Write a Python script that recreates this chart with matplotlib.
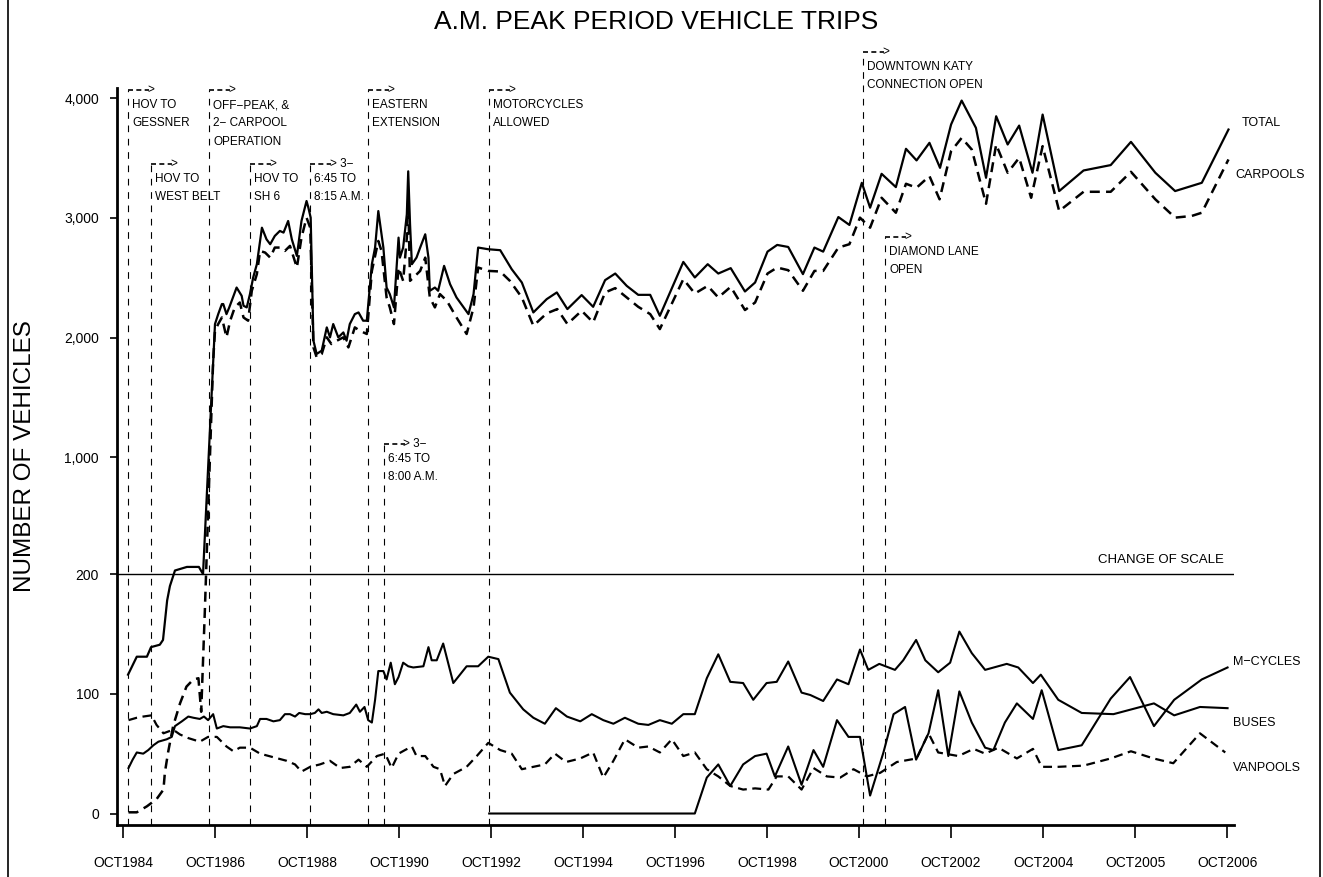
import matplotlib
matplotlib.use("Agg")
import matplotlib.pyplot as plt
import matplotlib.transforms as mtransforms
from matplotlib.lines import Line2D
import numpy as np

plt.rcParams['font.family'] = ['Liberation Sans', 'DejaVu Sans']

# ---- data (x in decimal years, y in vehicles) ----
x_ticks = [1984.75, 1986.75, 1988.75, 1990.75, 1992.75, 1994.75, 1996.75,
           1998.75, 2000.75, 2002.75, 2004.75, 2006.75, 2008.75]
x_tick_labels = ['OCT1984', 'OCT1986', 'OCT1988', 'OCT1990', 'OCT1992', 'OCT1994',
                 'OCT1996', 'OCT1998', 'OCT2000', 'OCT2002', 'OCT2004', 'OCT2005',
                 'OCT2006']
y_ticks = [0, 100, 200, 1000, 2000, 3000, 4000]
y_tick_labels = ['0', '100', '200', '1,000', '2,000', '3,000', '4,000']

total_x = [1984.86, 1985.05, 1985.27, 1985.36, 1985.55, 1985.62, 1985.71, 1985.77,
           1985.88, 1986.14, 1986.40, 1986.49, 1986.71, 1986.75, 1986.82, 1986.90,
           1986.93, 1987.00, 1987.06, 1987.22, 1987.33, 1987.37, 1987.44, 1987.51,
           1987.58, 1987.66, 1987.77, 1987.87, 1987.95, 1988.05, 1988.16, 1988.24,
           1988.34, 1988.42, 1988.53, 1988.63, 1988.74, 1988.78, 1988.83, 1988.89,
           1988.96, 1989.07, 1989.18, 1989.25, 1989.32, 1989.43, 1989.54, 1989.61,
           1989.68, 1989.79, 1989.87, 1989.97, 1990.05, 1990.16, 1990.23, 1990.30,
           1990.34, 1990.41, 1990.48, 1990.55, 1990.64, 1990.74, 1990.77, 1990.84,
           1990.92, 1990.95, 1990.99, 1991.03, 1991.13, 1991.21, 1991.32, 1991.39,
           1991.42, 1991.53, 1991.60, 1991.73, 1991.86, 1992.00, 1992.26, 1992.37,
           1992.47, 1992.69, 1992.95, 1993.20, 1993.42, 1993.67, 1993.96, 1994.18,
           1994.41, 1994.72, 1994.97, 1995.23, 1995.45, 1995.70, 1995.95, 1996.21,
           1996.42, 1996.93, 1997.18, 1997.46, 1997.69, 1997.96, 1998.27, 1998.49,
           1998.76, 1998.97, 1999.21, 1999.53, 1999.78, 1999.97, 2000.30, 2000.54,
           2000.81, 2000.99, 2001.24, 2001.55, 2001.77, 2002.00, 2002.28, 2002.51,
           2002.75, 2002.98, 2003.29, 2003.51, 2003.73, 2003.98, 2004.23, 2004.52,
           2004.74, 2005.10, 2005.63, 2006.22, 2006.66, 2007.19, 2007.62, 2008.20,
           2008.78]
total_y = [116, 131, 131, 139, 141, 145, 178, 190,
           203, 206, 206, 200, 1808, 2114, 2197, 2281,
           2281, 2197, 2253, 2419, 2350, 2267, 2253, 2364,
           2503, 2614, 2919, 2822, 2781, 2850, 2892, 2878,
           2975, 2822, 2683, 2975, 3142, 3086, 3003, 1975,
           1864, 1892, 2086, 2003, 2114, 2003, 2044, 1975,
           2114, 2197, 2211, 2142, 2142, 2614, 2753, 3058,
           2947, 2753, 2419, 2364, 2253, 2836, 2669, 2753,
           3031, 3390, 2947, 2614, 2669, 2753, 2864, 2669,
           2392, 2419, 2392, 2600, 2447, 2336, 2197, 2364,
           2753, 2739, 2731, 2572, 2461, 2211, 2322, 2378,
           2239, 2356, 2258, 2481, 2536, 2433, 2358, 2358,
           2183, 2633, 2503, 2614, 2536, 2581, 2386, 2461,
           2719, 2775, 2758, 2531, 2753, 2719, 3008, 2942,
           3294, 3086, 3369, 3258, 3578, 3481, 3628, 3419,
           3781, 3981, 3753, 3336, 3850, 3614, 3772, 3378,
           3864, 3225, 3397, 3442, 3636, 3378, 3225, 3294,
           3739]

carpool_x = [1984.87, 1985.05, 1985.27, 1985.48, 1985.63, 1985.66, 1985.73, 1985.84,
             1985.99, 1986.13, 1986.28, 1986.39, 1986.45, 1986.53, 1986.71, 1986.75,
             1986.82, 1986.90, 1987.00, 1987.08, 1987.18, 1987.29, 1987.37, 1987.47,
             1987.55, 1987.66, 1987.73, 1987.84, 1987.95, 1988.05, 1988.16, 1988.27,
             1988.38, 1988.53, 1988.63, 1988.74, 1988.82, 1988.89, 1988.96, 1989.07,
             1989.18, 1989.28, 1989.40, 1989.54, 1989.65, 1989.79, 1989.90, 1990.05,
             1990.16, 1990.30, 1990.37, 1990.48, 1990.55, 1990.64, 1990.74, 1990.84,
             1990.92, 1990.95, 1990.99, 1991.21, 1991.32, 1991.42, 1991.53, 1991.64,
             1991.79, 1992.00, 1992.22, 1992.37, 1992.47, 1992.69, 1992.95, 1993.16,
             1993.42, 1993.67, 1993.96, 1994.19, 1994.41, 1994.72, 1994.97, 1995.23,
             1995.45, 1995.70, 1995.95, 1996.21, 1996.42, 1996.93, 1997.18, 1997.46,
             1997.69, 1997.96, 1998.27, 1998.49, 1998.76, 1998.97, 1999.21, 1999.53,
             1999.78, 1999.97, 2000.30, 2000.54, 2000.77, 2000.99, 2001.24, 2001.55,
             2001.77, 2002.00, 2002.28, 2002.50, 2002.75, 2002.98, 2003.20, 2003.51,
             2003.73, 2003.98, 2004.23, 2004.49, 2004.74, 2005.10, 2005.63, 2006.22,
             2006.66, 2007.19, 2007.62, 2007.98, 2008.20, 2008.78]
carpool_y = [1, 1, 6, 12, 20, 34, 51, 73,
             92, 106, 112, 113, 85, 170, 1808, 2058,
             2114, 2169, 2003, 2142, 2253, 2294, 2169, 2142,
             2392, 2531, 2725, 2711, 2669, 2753, 2753, 2725,
             2767, 2586, 2836, 3003, 2919, 1919, 1836, 1864,
             2003, 1947, 1975, 2003, 1919, 2086, 2058, 2031,
             2558, 2808, 2725, 2336, 2253, 2114, 2586, 2475,
             2836, 3142, 2475, 2558, 2669, 2336, 2253, 2364,
             2308, 2169, 2031, 2253, 2586, 2558, 2553, 2475,
             2336, 2100, 2203, 2239, 2114, 2225, 2128, 2378,
             2414, 2336, 2258, 2197, 2072, 2489, 2369, 2433,
             2336, 2425, 2231, 2294, 2536, 2586, 2564, 2392,
             2558, 2558, 2753, 2781, 3003, 2919, 3169, 3044,
             3286, 3253, 3350, 3156, 3558, 3669, 3572, 3119,
             3614, 3378, 3503, 3169, 3600, 3058, 3219, 3219,
             3386, 3156, 3003, 3017, 3044, 3489]

bus_x = [1984.87, 1984.96, 1985.05, 1985.19, 1985.30, 1985.41, 1985.52, 1985.70,
         1985.81, 1985.88, 1986.03, 1986.17, 1986.28, 1986.42, 1986.51, 1986.60,
         1986.71, 1986.79, 1986.93, 1987.08, 1987.29, 1987.51, 1987.66, 1987.73,
         1987.87, 1988.02, 1988.16, 1988.27, 1988.38, 1988.49, 1988.58, 1988.71,
         1988.82, 1988.92, 1989.00, 1989.07, 1989.18, 1989.32, 1989.54, 1989.68,
         1989.82, 1989.90, 1990.00, 1990.08, 1990.16, 1990.23, 1990.30, 1990.41,
         1990.48, 1990.57, 1990.66, 1990.74, 1990.84, 1990.95, 1991.06, 1991.28,
         1991.39, 1991.46, 1991.57, 1991.71, 1991.93, 1992.22, 1992.47, 1992.69,
         1992.91, 1993.16, 1993.45, 1993.67, 1993.92, 1994.16, 1994.40, 1994.69,
         1994.94, 1995.19, 1995.41, 1995.66, 1995.95, 1996.17, 1996.42, 1996.68,
         1996.93, 1997.18, 1997.44, 1997.69, 1997.95, 1998.23, 1998.45, 1998.74,
         1998.96, 1999.21, 1999.50, 1999.69, 1999.97, 2000.27, 2000.52, 2000.77,
         2000.95, 2001.19, 2001.53, 2001.71, 2001.99, 2002.19, 2002.47, 2002.73,
         2002.93, 2003.20, 2003.49, 2003.96, 2004.21, 2004.53, 2004.70, 2005.08,
         2005.59, 2006.28, 2007.16, 2007.60, 2008.16, 2008.76]
bus_y = [38, 45, 51, 50, 53, 57, 60, 62,
         64, 73, 77, 81, 80, 79, 81, 78,
         83, 71, 73, 72, 72, 71, 73, 79,
         79, 77, 78, 83, 83, 81, 84, 83,
         83, 84, 87, 84, 85, 83, 82, 84,
         91, 85, 89, 78, 76, 95, 119, 119,
         112, 126, 108, 114, 126, 123, 122, 123,
         139, 128, 128, 142, 109, 123, 123, 131,
         129, 101, 87, 80, 75, 88, 81, 77,
         83, 78, 75, 80, 75, 74, 78, 75,
         83, 83, 113, 133, 110, 109, 95, 109,
         110, 127, 101, 99, 94, 112, 108, 137,
         120, 125, 120, 128, 145, 128, 118, 126,
         152, 134, 120, 125, 122, 109, 116, 95,
         84, 83, 92, 82, 89, 88]

mcycle_x = [1992.71, 1997.18, 1997.44, 1997.69, 1997.95, 1998.23, 1998.49, 1998.74,
            1998.92, 1999.21, 1999.50, 1999.76, 1999.97, 2000.27, 2000.52, 2000.77,
            2000.99, 2001.28, 2001.50, 2001.75, 2001.99, 2002.26, 2002.47, 2002.69,
            2002.93, 2003.20, 2003.49, 2003.67, 2003.92, 2004.18, 2004.53, 2004.72,
            2005.08, 2005.59, 2006.22, 2006.64, 2007.16, 2007.60, 2008.20, 2008.76]
mcycle_y = [0, 0, 30, 41, 23, 41, 48, 50,
            31, 56, 24, 53, 39, 78, 64, 64,
            15, 51, 83, 89, 45, 67, 103, 48,
            102, 76, 55, 53, 76, 92, 79, 103,
            53, 57, 96, 114, 73, 95, 112, 122]

vanpool_x = [1984.87, 1985.05, 1985.19, 1985.37, 1985.48, 1985.63, 1985.84, 1985.99,
             1986.17, 1986.42, 1986.60, 1986.79, 1987.00, 1987.15, 1987.29, 1987.51,
             1987.73, 1988.02, 1988.31, 1988.49, 1988.63, 1988.82, 1989.03, 1989.25,
             1989.47, 1989.68, 1989.87, 1990.05, 1990.27, 1990.45, 1990.59, 1990.74,
             1990.88, 1991.03, 1991.13, 1991.32, 1991.50, 1991.64, 1991.75, 1991.93,
             1992.22, 1992.44, 1992.69, 1992.95, 1993.20, 1993.42, 1993.67, 1993.92,
             1994.14, 1994.38, 1994.69, 1994.97, 1995.19, 1995.41, 1995.66, 1995.95,
             1996.17, 1996.42, 1996.68, 1996.93, 1997.18, 1997.44, 1997.69, 1997.95,
             1998.23, 1998.49, 1998.78, 1998.96, 1999.21, 1999.50, 1999.76, 2000.05,
             2000.34, 2000.63, 2000.92, 2001.21, 2001.57, 2002.00, 2002.26, 2002.47,
             2002.91, 2003.24, 2003.49, 2003.78, 2004.18, 2004.53, 2004.72, 2005.08,
             2005.63, 2006.22, 2006.66, 2007.15, 2007.58, 2008.16, 2008.71]
vanpool_y = [78, 80, 81, 82, 74, 67, 70, 66,
             63, 60, 64, 64, 56, 52, 55, 55,
             50, 47, 44, 41, 35, 39, 41, 44,
             38, 39, 45, 39, 48, 50, 38, 50,
             53, 56, 48, 48, 39, 37, 23, 33,
             39, 48, 59, 53, 50, 37, 39, 41,
             50, 43, 46, 51, 30, 44, 62, 55,
             56, 51, 62, 48, 51, 37, 31, 23,
             20, 21, 20, 31, 31, 20, 38, 31,
             30, 37, 31, 34, 43, 46, 67, 51,
             48, 54, 50, 55, 46, 54, 39, 39,
             40, 46, 52, 46, 42, 67, 51]

event_dates = [1984.86, 1985.36, 1986.62, 1987.51, 1988.82, 1990.08, 1990.42,
               1992.71, 2000.84, 2001.32]
event_labels = ['HOV TO\nGESSNER', 'HOV TO\nWEST BELT', 'OFF\u2212PEAK, &\n2\u2212 CARPOOL\nOPERATION',
                'HOV TO\nSH 6', '6:45 TO\n8:15 A.M.', 'EASTERN\nEXTENSION', '6:45 TO\n8:00 A.M.',
                'MOTORCYCLES\nALLOWED', 'DOWNTOWN KATY\nCONNECTION OPEN', 'DIAMOND LANE\nOPEN']
event_suffix = ['', '', '', '', ' 3\u2212', '', ' 3\u2212', '', '', '']
# arrow heights as pixel rows of the 877 px tall figure
event_rows = [90, 164, 90, 164, 164, 90, 444, 90, 52, 237]

series_names = ['TOTAL', 'CARPOOLS', 'M\u2212CYCLES', 'BUSES', 'VANPOOLS']


def fwd(v):
    v = np.asarray(v, dtype=float)
    return np.where(v <= 210, v / 100,
                    np.where(v < 1000, 2.1 + (v - 210) * 0.875 / 790, 1.975 + v / 1000))


def inv(p):
    p = np.asarray(p, dtype=float)
    return np.where(p <= 2.1, p * 100,
                    np.where(p < 2.975, 210 + (p - 2.1) * 790 / 0.875, (p - 1.975) * 1000))


W, H = 1323, 877
fig = plt.figure(figsize=(W / 100, H / 100), dpi=100)
ax = fig.add_axes([117 / W, 1 - 825 / H, (1234 - 117) / W, 737 / H])
ax.set_yscale('function', functions=(fwd, inv))
ax.set_xlim(1984.62, 2008.90)
ax.set_ylim(-9.6, 4086)

for s in ['top', 'right']:
    ax.spines[s].set_visible(False)
for s in ['left', 'bottom']:
    ax.spines[s].set_linewidth(2)

ax.set_xticks(x_ticks)
ax.set_xticklabels(x_tick_labels)
ax.set_yticks(y_ticks)
ax.set_yticklabels(y_tick_labels)
ax.minorticks_off()
ax.tick_params(axis='x', direction='out', length=9, width=1.2, pad=13, labelsize=10)
ax.tick_params(axis='y', direction='out', length=5, width=1.2, pad=8, labelsize=10)

ax.plot(total_x, total_y, color='black', lw=1.6)
ax.plot(carpool_x, carpool_y, color='black', lw=1.8, ls=(0, (4, 2.5)))
ax.plot(bus_x, bus_y, color='black', lw=1.5)
ax.plot(mcycle_x, mcycle_y, color='black', lw=1.5)
ax.plot(vanpool_x, vanpool_y, color='black', lw=1.6, ls=(0, (4, 2.5)))

# change of scale
ax.axhline(200, color='black', lw=1)
fig.text(1224 / W, 1 - 560 / H, 'CHANGE OF SCALE', ha='right', va='center', fontsize=9.5)

# events
trans = mtransforms.blended_transform_factory(ax.transData, ax.transAxes)
for d, lab, suf, row in zip(event_dates, event_labels, event_suffix, event_rows):
    yf = (825 - row) / 737
    ax.plot([d, d], [0, yf], transform=trans, color='black', lw=0.8,
            ls=(0, (6, 6)), clip_on=False)
    ax.plot([d, d + 0.45], [yf, yf], transform=trans, color='black', lw=1.2,
            ls=(0, (3, 2)), clip_on=False)
    ax.annotate('>' + suf, xy=(d + 0.42, yf), xycoords=trans, ha='left', va='center',
                fontsize=8.5, annotation_clip=False)
    ax.annotate(lab, xy=(d, yf), xycoords=trans, xytext=(4, -9),
                textcoords='offset pixels', ha='left', va='top', fontsize=8.5,
                linespacing=1.7, annotation_clip=False)

# series names
name_pos = [(1242, 123), (1235, 175), (1233, 662), (1233, 723), (1233, 768)]
for name, (px, py) in zip(series_names, name_pos):
    fig.text(px / W, 1 - py / H, name, ha='left', va='center', fontsize=9)

fig.text(656 / W, 1 - 22 / H, 'A.M. PEAK PERIOD VEHICLE TRIPS', ha='center', va='center',
         fontsize=19)
fig.text(25 / W, 1 - 456 / H, 'NUMBER OF VEHICLES', rotation=90, ha='center', va='center',
         fontsize=17.5)

# page frame
fig.add_artist(Line2D([8 / W, 8 / W], [0, 1], color='black', lw=1.2))
fig.add_artist(Line2D([1320 / W, 1320 / W], [0, 1], color='black', lw=1.2))

fig.savefig('out.png', dpi=100)
